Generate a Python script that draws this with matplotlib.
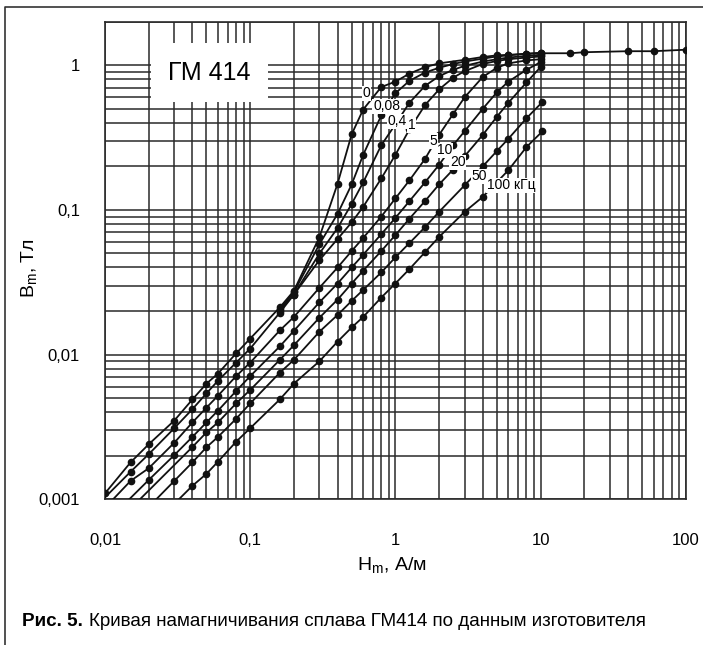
import matplotlib.pyplot as plt
import numpy as np

plt.rcParams['font.family'] = ['Liberation Sans', 'DejaVu Sans']

# frequency of each curve, kHz
freq_labels = ['0', '0,08', '0,4', '1', '5', '10', '20', '50', '100 кГц']

# H (A/m) and B (T) points
h_0 = [0.01, 0.015, 0.02, 0.03, 0.04, 0.05, 0.06, 0.08, 0.1, 0.16, 0.2, 0.3, 0.4, 0.5, 0.6, 0.8,
       1.0, 1.25, 1.6, 2.0, 3.0, 4.0, 5.0, 6.0, 8.0, 10, 16, 20, 40, 60, 100]
b_0 = [0.0011, 0.0018, 0.0024, 0.0035, 0.0049, 0.0063, 0.0074, 0.0102, 0.0129, 0.0212, 0.0276, 0.065,
       0.152, 0.333, 0.494, 0.707, 0.77, 0.875, 0.97, 1.03, 1.09, 1.14, 1.17, 1.18, 1.2, 1.21, 1.21,
       1.23, 1.25, 1.25, 1.28]

h_008 = [0.16, 0.2, 0.3, 0.4, 0.5, 0.6, 0.8, 1.0, 1.25, 1.6, 2.0, 2.5, 3.0, 4.0, 5.0, 6.0, 8.0, 10]
b_008 = [0.0205, 0.027, 0.058, 0.094, 0.15, 0.24, 0.45, 0.64, 0.78, 0.89, 0.96, 1.02, 1.06, 1.11, 1.15,
         1.17, 1.2, 1.22]

h_04 = [0.16, 0.2, 0.3, 0.4, 0.5, 0.6, 0.8, 1.0, 1.25, 1.6, 2.0, 2.5, 3.0, 4.0, 5.0, 6.0, 8.0, 10]
b_04 = [0.0201, 0.026, 0.05, 0.075, 0.11, 0.155, 0.28, 0.39, 0.55, 0.72, 0.84, 0.93, 0.99, 1.06, 1.1,
        1.13, 1.16, 1.18]

h_1 = [0.0095, 0.015, 0.02, 0.03, 0.04, 0.05, 0.06, 0.08, 0.1, 0.16, 0.2, 0.3, 0.4, 0.5, 0.6, 0.8, 1.0,
       1.25, 1.6, 2.0, 2.5, 3.0, 4.0, 5.0, 6.0, 8.0, 10]
b_1 = [0.00098, 0.00155, 0.00205, 0.0031, 0.0042, 0.0054, 0.0066, 0.0088, 0.011, 0.0195, 0.026, 0.045,
       0.063, 0.082, 0.105, 0.165, 0.24, 0.36, 0.53, 0.68, 0.82, 0.91, 1.02, 1.07, 1.1, 1.13, 1.15]

h_5 = [0.0105, 0.015, 0.02, 0.03, 0.04, 0.05, 0.06, 0.08, 0.1, 0.16, 0.2, 0.3, 0.4, 0.5, 0.6, 0.8, 1.0,
       1.25, 1.6, 2.0, 2.5, 3.0, 4.0, 5.0, 6.0, 8.0, 10]
b_5 = [0.00092, 0.00134, 0.00164, 0.00246, 0.0034, 0.0043, 0.0052, 0.0071, 0.0088, 0.0147, 0.0182, 0.029,
       0.04, 0.052, 0.064, 0.09, 0.12, 0.16, 0.225, 0.33, 0.46, 0.6, 0.83, 0.96, 1.03, 1.08, 1.1]

h_10 = [0.0135, 0.02, 0.03, 0.04, 0.05, 0.06, 0.08, 0.1, 0.16, 0.2, 0.3, 0.4, 0.5, 0.6, 0.8, 1.0, 1.25,
        1.6, 2.0, 2.5, 3.0, 4.0, 5.0, 6.0, 8.0, 10]
b_10 = [0.00092, 0.00136, 0.00202, 0.0027, 0.0034, 0.0041, 0.0056, 0.0071, 0.0114, 0.0146, 0.023, 0.031,
        0.04, 0.049, 0.068, 0.088, 0.115, 0.155, 0.205, 0.28, 0.35, 0.5, 0.65, 0.77, 0.93, 1.05]

h_20 = [0.016, 0.04, 0.05, 0.06, 0.08, 0.1, 0.16, 0.2, 0.3, 0.4, 0.5, 0.6, 0.8, 1.0, 1.25, 1.6, 2.0,
        2.5, 3.0, 4.0, 5.0, 6.0, 8.0, 10]
b_20 = [0.00092, 0.0023, 0.0029, 0.0034, 0.0046, 0.0057, 0.0092, 0.0116, 0.018, 0.024, 0.031, 0.038,
        0.052, 0.067, 0.087, 0.115, 0.15, 0.19, 0.235, 0.33, 0.44, 0.55, 0.76, 0.97]

h_50 = [0.021, 0.03, 0.04, 0.05, 0.06, 0.08, 0.1, 0.16, 0.2, 0.3, 0.4, 0.5, 0.6, 0.8, 1.0, 1.25, 1.6,
        2.0, 3.0, 4.0, 5.0, 6.0, 8.0, 10.3]
b_50 = [0.00093, 0.00134, 0.0018, 0.00229, 0.0027, 0.0036, 0.0046, 0.0075, 0.0092, 0.0144, 0.0188,
        0.0235, 0.028, 0.037, 0.047, 0.059, 0.076, 0.097, 0.148, 0.2, 0.255, 0.31, 0.43, 0.557]

h_100 = [0.03, 0.04, 0.05, 0.06, 0.08, 0.1, 0.16, 0.2, 0.3, 0.4, 0.5, 0.6, 0.8, 1.0, 1.25, 1.6, 2.0,
         3.0, 4.0, 6.0, 8.0, 10.3]
b_100 = [0.00093, 0.00124, 0.0015, 0.00182, 0.0025, 0.0031, 0.0049, 0.0063, 0.009, 0.0123, 0.0154,
         0.0182, 0.0248, 0.031, 0.039, 0.051, 0.065, 0.097, 0.123, 0.188, 0.272, 0.349]

curves = [(h_0, b_0), (h_008, b_008), (h_04, b_04), (h_1, b_1), (h_5, b_5),
          (h_10, b_10), (h_20, b_20), (h_50, b_50), (h_100, b_100)]
# first point of these curves lies outside the frame (line only, no dot)
lead_in = [False, False, False, True, True, True, True, True, True]

# label positions (H, B)
label_pos = [(0.635, 0.64), (0.87, 0.52), (1.026, 0.41), (1.30, 0.385), (1.82, 0.30),
             (2.2, 0.258), (2.7, 0.213), (3.77, 0.171), (6.25, 0.148)]

fig = plt.figure(figsize=(7.03, 6.45), dpi=100)
ax = fig.add_axes([0.1494, 0.2259, 0.8260, 0.7405])
ax.set_xscale('log')
ax.set_yscale('log')
ax.set_xlim(0.01, 100)
ax.set_ylim(0.001, 2)

for (h, b), skip in zip(curves, lead_in):
    ax.plot(h, b, color='#111111', lw=1.3, marker='o', ms=4.5,
            markevery=slice(1 if skip else 0, None), zorder=3)

for (x, y), s in zip(label_pos, freq_labels):
    ax.text(x, y, s, fontsize=10, ha='center', va='center', zorder=4,
            family=['Liberation Sans Narrow', 'Liberation Sans', 'DejaVu Sans'],
            bbox=dict(facecolor='white', edgecolor='none', pad=0.5))

ax.grid(True, which='both', color='#2a2a2a', lw=1.1)
ax.set_axisbelow(True)
for sp in ax.spines.values():
    sp.set_color('#2a2a2a')
    sp.set_linewidth(1.2)
ax.tick_params(which='both', length=0, labelsize=12)
ax.tick_params(axis='x', pad=24)
ax.tick_params(axis='y', pad=18)
ax.set_xticks([0.01, 0.1, 1, 10, 100])
ax.set_xticklabels(['0,01', '0,1', '1', '10', '100'])
ax.set_yticks([0.001, 0.01, 0.1, 1])
ax.set_yticklabels(['0,001', '0,01', '0,1', '1'])
ax.minorticks_on()
ax.tick_params(which='minor', length=0, labelleft=False, labelbottom=False)

ax.text(0.18, 0.893, 'ГМ 414', transform=ax.transAxes, fontsize=18,
        ha='center', va='center', zorder=5,
        bbox=dict(facecolor='white', edgecolor='none', boxstyle='square,pad=0.7'))

fig.text(0.558, 1 - 566 / 645, r'H$_\mathregular{m}$, А/м', fontsize=14, ha='center', va='center')
fig.text(30 / 703, 1 - 268 / 645, r'B$_\mathregular{m}$, Тл', fontsize=14, ha='center', va='center', rotation=90)

# caption
t1 = fig.text(22 / 703, 1 - 622 / 645, 'Рис. 5.', fontsize=13.6, fontweight='bold', va='center')
fig.canvas.draw()
bb = t1.get_window_extent()
fig.text((bb.x1 + 6) / 703, 1 - 622 / 645,
         'Кривая намагничивания сплава ГМ414 по данным изготовителя',
         fontsize=13.6, va='center')

# outer frame
fig.add_artist(plt.Line2D([4.5 / 703, 4.5 / 703, 1], [0, 1 - 7 / 645, 1 - 7 / 645],
                          color='#333333', lw=1.2))

fig.savefig('out.png', dpi=100)
